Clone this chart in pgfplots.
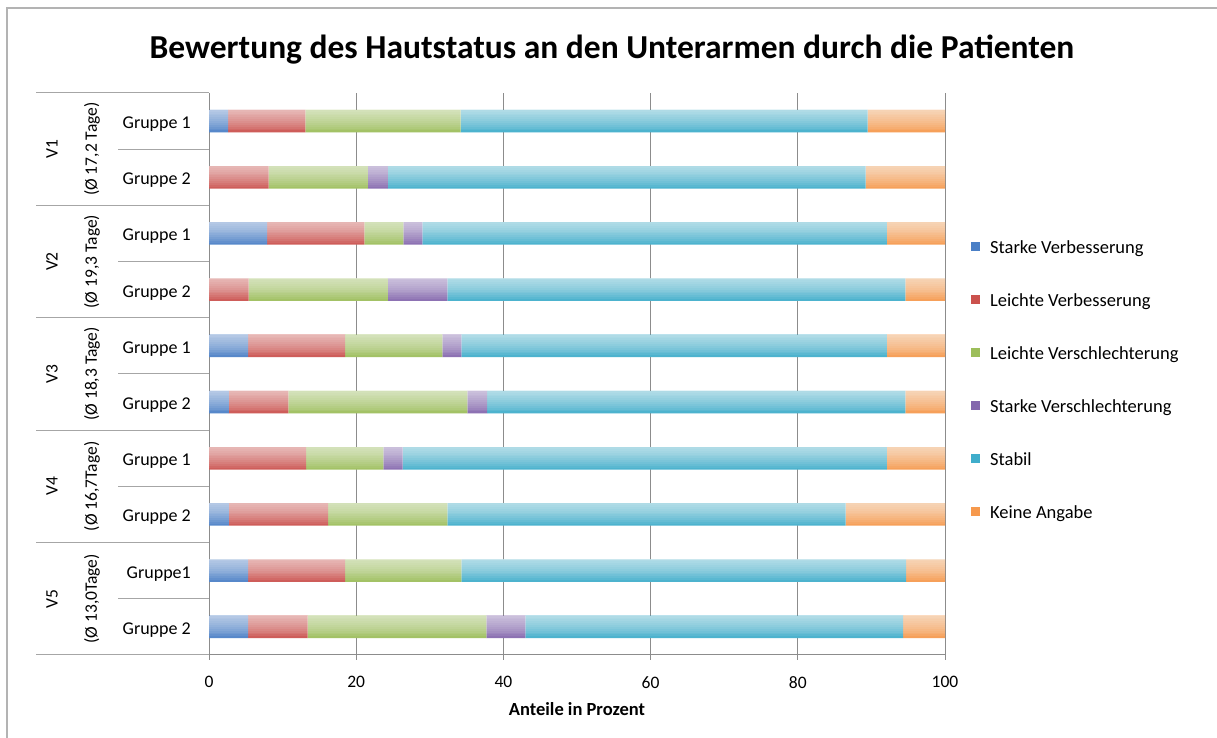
\documentclass[border=0pt]{standalone}
\usepackage{fontspec}
\setmainfont{Carlito}
\usepackage{pgfplots}
\usepackage{pgfplotstable}
\pgfplotsset{compat=1.18}

\definecolor{gridgray}{HTML}{8C8C8C}
\definecolor{sepgray}{HTML}{A6A6A6}
\definecolor{framegray}{HTML}{B3B3B3}
\definecolor{svB}{HTML}{4A7FC6}
\definecolor{lvB}{HTML}{CB514D}
\definecolor{lsB}{HTML}{9CBE5A}
\definecolor{ssB}{HTML}{8467AD}
\definecolor{stB}{HTML}{3FADCB}
\definecolor{kaB}{HTML}{F6994D}

\newcommand{\lbl}{\fontsize{18bp}{21bp}\selectfont}

% y = 9 is V1 Gruppe 1 (top), y = 0 is V5 Gruppe 2 (bottom)
\pgfplotstableread{
y sv  lv   ls   ss  st   ka
9 2.6 10.5 21.1 0   55.3 10.5
8 0   8.1  13.5 2.7 64.9 10.8
7 7.9 13.2 5.3  2.6 63.1 7.9
6 0   5.4  18.9 8.1 62.2 5.4
5 5.3 13.2 13.2 2.6 57.8 7.9
4 2.7 8.1  24.3 2.7 56.8 5.4
3 0   13.2 10.5 2.6 65.8 7.9
2 2.7 13.5 16.2 0   54.1 13.5
1 5.3 13.2 15.8 0   60.4 5.3
0 5.3 8.1  24.3 5.3 51.3 5.7
}\hautdata

\begin{document}
\begin{tikzpicture}[x=1bp,y=1bp]
\useasboundingbox (0,0) rectangle (1217,738);
\draw[framegray, line width=1.5bp] (7,0) -- (7,730) -- (1217,730);

\node[font=\fontsize{33.5bp}{38bp}\selectfont\bfseries] at (612,688)
  {Bewertung des Hautstatus an den Unterarmen durch die Patienten};

\begin{axis}[
    at={(209bp,83bp)}, anchor=south west,
    width=736bp, height=562bp, scale only axis,
    xbar stacked, bar width=22.5bp,
    xmin=0, xmax=100, ymin=-0.5, ymax=9.5,
    ytick=\empty,
    xtick={0,20,...,100},
    axis x line*=bottom, axis y line*=left,
    axis line style={gridgray, line width=1bp, -},
    xmajorgrids,
    major grid style={gridgray, line width=1bp},
    tick align=outside, major tick length=5bp,
    xtick style={gridgray, line width=1bp},
    /pgf/number format/assume math mode=true,
    xticklabel style={font=\fontsize{17.5bp}{20bp}\selectfont, yshift=-13bp},
    xlabel={\bfseries Anteile in Prozent},
    xlabel style={font=\fontsize{18.5bp}{21bp}\selectfont,
      at={(axis description cs:0.5,-0.0961)}, anchor=center},
    legend style={at={(1.0353,0.736)}, anchor=north west, draw=none,
      fill=none, inner sep=0pt, font=\fontsize{18.5bp}{21bp}\selectfont,
      row sep=37bp, column sep=10bp,
      nodes={inner sep=0pt, text height=12bp, text depth=4bp}},
    legend cell align=left,
    legend image code/.code={\draw[#1, draw=none] (0bp,-1bp) rectangle (9bp,8bp);},
  ]
  \addplot[draw=none, fill=svB] table[x=sv, y=y] {\hautdata};
  \addplot[draw=none, fill=lvB] table[x=lv, y=y] {\hautdata};
  \addplot[draw=none, fill=lsB] table[x=ls, y=y] {\hautdata};
  \addplot[draw=none, fill=ssB] table[x=ss, y=y] {\hautdata};
  \addplot[draw=none, fill=stB] table[x=st, y=y] {\hautdata};
  \addplot[draw=none, fill=kaB] table[x=ka, y=y] {\hautdata};
  \legend{Starke Verbesserung, Leichte Verbesserung, Leichte Verschlechterung,
    Starke Verschlechterung, Stabil, Keine Angabe}
\end{axis}

% glossy highlight over each bar row (every row fills 0..100): lighter at the top,
% made of nested translucent white layers that all start at the bar's top edge
\foreach \k in {0,...,9}
  \foreach \i in {1,...,12}
    \fill[white, fill opacity=0.074]
      (209,{656.25-56.2*(\k+0.5)}) rectangle
      (945,{656.25-56.2*(\k+0.5)-1.875*\i});

% category separators of the two-level vertical axis
\foreach \k in {0,2,...,10}
  \draw[sepgray, line width=1bp] (36,{645-56.2*\k}) -- (209,{645-56.2*\k});
\foreach \k in {1,3,...,9}
  \draw[sepgray, line width=1bp] (118,{645-56.2*\k}) -- (209,{645-56.2*\k});

\foreach \k/\t in {0/Gruppe 1, 1/Gruppe 2, 2/Gruppe 1, 3/Gruppe 2, 4/Gruppe 1,
                   5/Gruppe 2, 6/Gruppe 1, 7/Gruppe 2, 8/Gruppe1, 9/Gruppe 2}
  \node[anchor=east, font=\lbl, inner sep=0pt] at (191,{642-56.2*(\k+0.5)}) {\t};

\foreach \j/\v/\d in {0/V1/{(Ø 17,2 Tage)}, 1/V2/{(Ø 19,3 Tage)},
                      2/V3/{(Ø 18,3 Tage)}, 3/V4/{(Ø 16,7Tage)}, 4/V5/{(Ø 13,0Tage)}} {
  \node[rotate=90, font=\fontsize{17.5bp}{20bp}\selectfont, inner sep=0pt]
    at (52,{645-112.4*(\j+0.5)}) {\v};
  \node[rotate=90, font=\fontsize{17.5bp}{20bp}\selectfont, inner sep=0pt]
    at (92,{645-112.4*(\j+0.5)}) {\d};
}
\end{tikzpicture}
\end{document}
